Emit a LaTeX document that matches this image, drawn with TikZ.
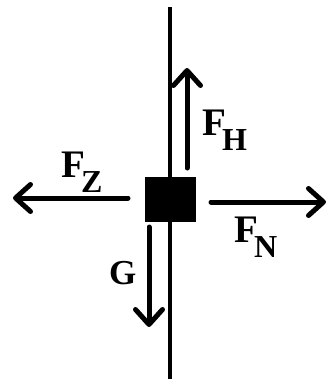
\documentclass[tikz,border=0pt]{standalone}
\usepackage{fontspec}
\setmainfont{Liberation Serif}
\usetikzlibrary{arrows.meta}
\newcommand{\flab}[2]{#1\kern-4pt\raisebox{-15pt}{\fontsize{32}{32}\selectfont #2}}
\begin{document}
\begin{tikzpicture}[x=1pt,y=-1pt,
  force/.style={line width=5pt,line cap=round,-{Straight Barb[length=15pt,width=27pt,line cap=round,line join=round]}},
  lbl/.style={anchor=base west,inner sep=0pt,font=\fontsize{39}{39}\selectfont\bfseries},
  pole/.style={line width=4.5pt}]
\useasboundingbox (0,0) rectangle (331,383);
\coordinate (ptop) at (170,7);
\coordinate (pbot) at (170,379);
\draw[pole] (ptop) -- (pbot);
\node[fill=black, minimum width=51pt, minimum height=45pt, inner sep=0pt] (blk) at (170.5,199.5) {};
\coordinate (hs) at (187,168); \coordinate (he) at (187,68);
\coordinate (gs) at (149,227); \coordinate (ge) at (149,327);
\coordinate (zs) at (128,198); \coordinate (ze) at (13,198);
\coordinate (ns) at (211,202); \coordinate (ne) at (326,202);
\draw[force] (hs) -- (he);
\draw[force] (gs) -- (ge);
\draw[force] (zs) -- (ze);
\draw[force] (ns) -- (ne);
\node[lbl] (lh) at (202,135) {\flab{F}{H}};
\node[lbl] (lz) at (61,177) {\flab{F}{Z}};
\node[lbl] (ln) at (234,242) {\flab{F}{N}};
\node[lbl,font=\fontsize{35}{35}\selectfont\bfseries] (lg) at (109,284) {G};
\end{tikzpicture}
\end{document}
